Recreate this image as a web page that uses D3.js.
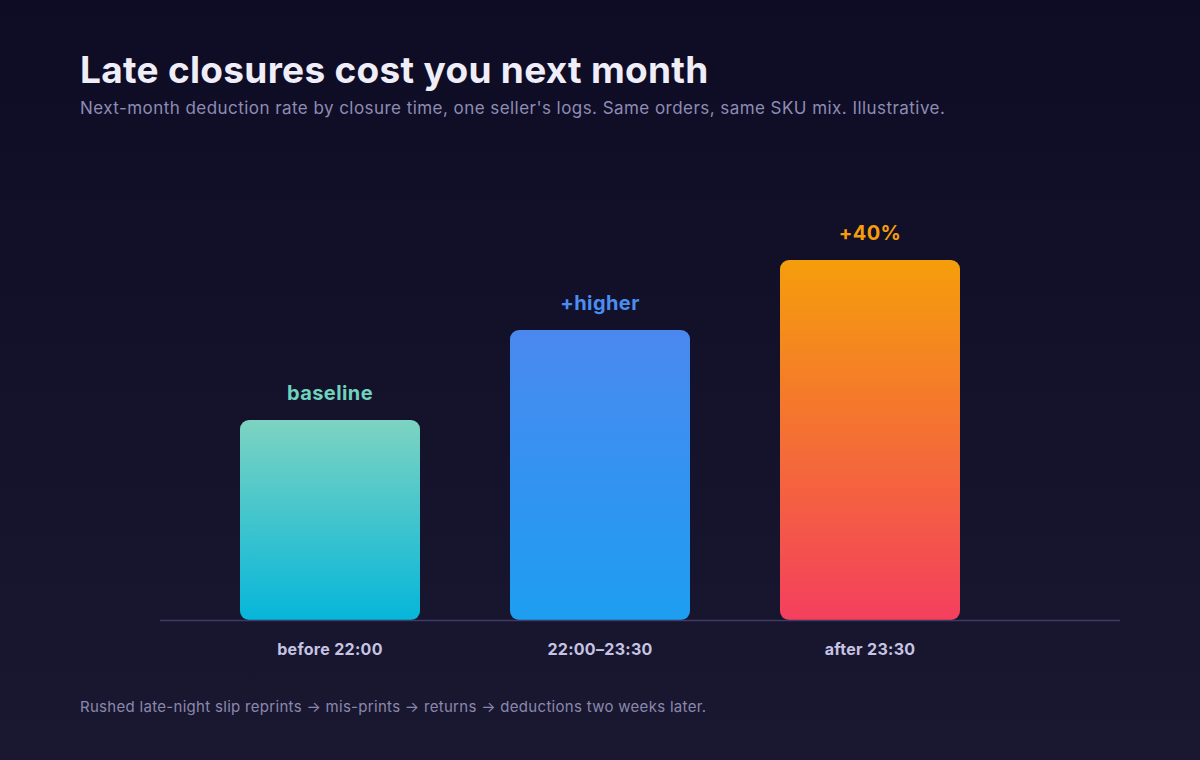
<!DOCTYPE html>
<html>
<head>
<meta charset="utf-8">
<script src="https://cdn.jsdelivr.net/npm/d3@7"></script>
<style>
  html, body { margin: 0; padding: 0; background: #13112a; }
  svg { display: block; font-family: "Inter", "Noto Sans", sans-serif; }
</style>
</head>
<body>
<div class="graph"></div>
<script>
var width = 1200;
var height = 760;

var categories = ["before 22:00", "22:00\u201323:30", "after 23:30"];
var values = [1.0, 1.45, 1.8];
var valueLabels = ["baseline", "+higher", "+40%"];
var labelColors = ["#6fd3bf", "#4a8ef2", "#f59e0b"];
var gradTop = ["#7dd3c1", "#4a88f0", "#f59e0b"];
var gradBottom = ["#06b6da", "#1d9ef0", "#f43f5e"];

var svg = d3.select(".graph").append("svg")
  .attr("width", width)
  .attr("height", height);

var defs = svg.append("defs");

var bg = defs.append("linearGradient")
  .attr("id", "bg")
  .attr("x1", 0).attr("y1", 0).attr("x2", 0).attr("y2", 1);
bg.append("stop").attr("offset", "0%").attr("stop-color", "#0e0c24");
bg.append("stop").attr("offset", "100%").attr("stop-color", "#1a1830");

categories.forEach(function (c, i) {
    var g = defs.append("linearGradient")
      .attr("id", "bar" + i)
      .attr("x1", 0).attr("y1", 0).attr("x2", 0).attr("y2", 1);
    g.append("stop").attr("offset", "0%").attr("stop-color", gradTop[i]);
    g.append("stop").attr("offset", "100%").attr("stop-color", gradBottom[i]);
});

svg.append("rect")
  .attr("width", width)
  .attr("height", height)
  .attr("fill", "url(#bg)");

svg.append("text")
  .attr("x", 80)
  .attr("y", 83)
  .attr("fill", "#efeef8")
  .style("font-size", "37px")
  .style("font-weight", 700)
  .style("letter-spacing", "0.3px")
  .text("Late closures cost you next month");

svg.append("text")
  .attr("x", 80)
  .attr("y", 114)
  .attr("fill", "#8e8cb4")
  .style("font-size", "17px")
  .style("letter-spacing", "0.45px")
  .text("Next-month deduction rate by closure time, one seller's logs. Same orders, same SKU mix. Illustrative.");

var x = d3.scaleBand()
  .domain(categories)
  .range([195, 1005])
  .paddingInner(1 / 3)
  .paddingOuter(1 / 6);

var y = d3.scaleLinear()
  .domain([0, 2])
  .range([620, 220]);

var bars = svg.append("g");

bars.selectAll("rect")
  .data(values)
  .enter()
  .append("rect")
  .attr("x", (d, i) => x(categories[i]))
  .attr("y", d => y(d))
  .attr("width", x.bandwidth())
  .attr("height", d => y(0) - y(d))
  .attr("rx", 9)
  .attr("fill", (d, i) => "url(#bar" + i + ")");

bars.selectAll("text.val")
  .data(values)
  .enter()
  .append("text")
  .attr("class", "val")
  .attr("x", (d, i) => x(categories[i]) + x.bandwidth() / 2)
  .attr("y", d => y(d) - 20)
  .attr("text-anchor", "middle")
  .attr("fill", (d, i) => labelColors[i])
  .style("font-size", "20px")
  .style("font-weight", 700)
  .style("letter-spacing", "0.4px")
  .text((d, i) => valueLabels[i]);

svg.append("line")
  .attr("x1", 160)
  .attr("x2", 1120)
  .attr("y1", y(0) + 0.5)
  .attr("y2", y(0) + 0.5)
  .attr("stroke", "#3e3a66")
  .attr("stroke-width", 1.5);

var xAxisGroup = svg.append("g")
  .attr("transform", "translate(0," + y(0) + ")");

var xAxis = d3.axisBottom(x).tickSize(0).tickPadding(24);
xAxis(xAxisGroup);

xAxisGroup.select(".domain").remove();
xAxisGroup.selectAll("text")
  .attr("fill", "#c6c4e2")
  .style("font-family", "Inter, sans-serif")
  .style("font-size", "16px")
  .style("font-weight", 700)
  .style("letter-spacing", "0.3px");

svg.append("text")
  .attr("x", 80)
  .attr("y", 712)
  .attr("fill", "#8a88ae")
  .style("font-size", "15px")
  .style("letter-spacing", "0.3px")
  .text("Rushed late-night slip reprints \u2192 mis-prints \u2192 returns \u2192 deductions two weeks later.");
</script>
</body>
</html>
